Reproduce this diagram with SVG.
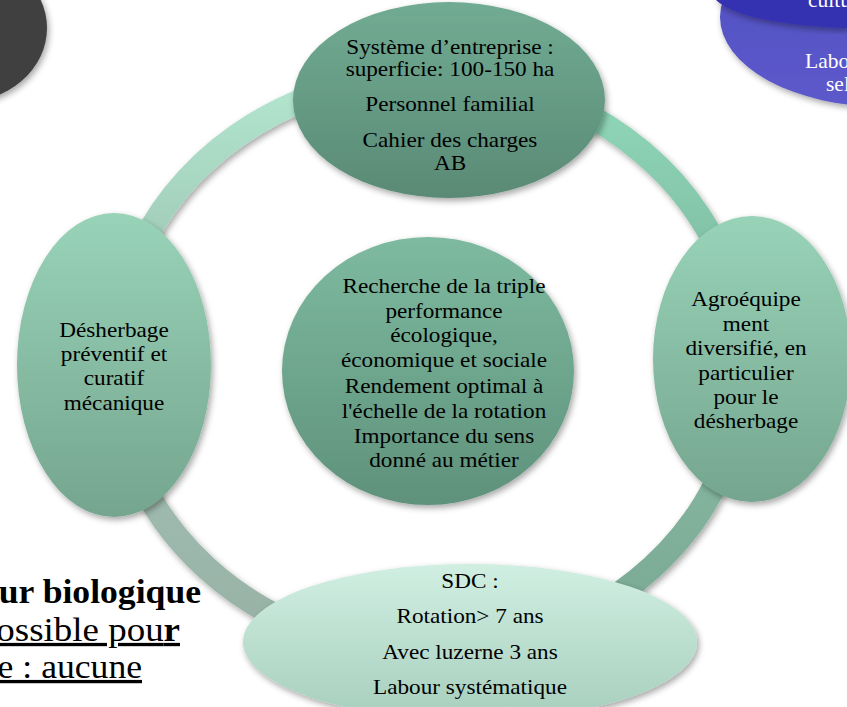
<svg xmlns="http://www.w3.org/2000/svg" width="847" height="707" viewBox="0 0 847 707">
<defs>
<filter id="sh" x="-20%" y="-20%" width="140%" height="140%">
<feDropShadow dx="2" dy="3" stdDeviation="3" flood-color="#000" flood-opacity="0.35"/>
</filter>
<linearGradient id="gTop" x1="0" y1="0" x2="0" y2="1"><stop offset="0" stop-color="#71ab93"/><stop offset="1" stop-color="#5a8a75"/></linearGradient>
<linearGradient id="gCen" x1="0" y1="0" x2="0" y2="1"><stop offset="0" stop-color="#7dbaa0"/><stop offset="1" stop-color="#5f917b"/></linearGradient>
<linearGradient id="gSide" x1="0" y1="0" x2="0" y2="1"><stop offset="0" stop-color="#98d3b8"/><stop offset="1" stop-color="#75a58e"/></linearGradient>
<linearGradient id="gBot" x1="0" y1="0" x2="0" y2="1"><stop offset="0" stop-color="#d0efe2"/><stop offset="1" stop-color="#a7cebd"/></linearGradient>
<linearGradient id="rTL" gradientUnits="userSpaceOnUse" x1="0" y1="77" x2="0" y2="265"><stop offset="0" stop-color="#b3e6d0"/><stop offset="1" stop-color="#9fcab6"/></linearGradient>
<linearGradient id="rTR" gradientUnits="userSpaceOnUse" x1="0" y1="80" x2="0" y2="290"><stop offset="0" stop-color="#90d9b9"/><stop offset="1" stop-color="#7fbca2"/></linearGradient>
<linearGradient id="rBR" gradientUnits="userSpaceOnUse" x1="0" y1="438" x2="0" y2="642"><stop offset="0" stop-color="#86b7a0"/><stop offset="1" stop-color="#79a892"/></linearGradient>
<linearGradient id="rBL" gradientUnits="userSpaceOnUse" x1="0" y1="438" x2="0" y2="642"><stop offset="0" stop-color="#a1bdb1"/><stop offset="1" stop-color="#97b1a5"/></linearGradient>
<linearGradient id="gBlue" x1="0" y1="0" x2="0" y2="1"><stop offset="0" stop-color="#4f4cc0"/><stop offset="1" stop-color="#5d5acb"/></linearGradient>
</defs>
<style>
.ring{fill:none;stroke-width:24;filter:url(#sh)}
.node{filter:url(#sh)}
.t{font-family:"Liberation Serif","Times New Roman",serif;font-size:21.5px;fill:#000;text-anchor:middle}
.w{font-family:"Liberation Serif","Times New Roman",serif;font-size:21.5px;fill:#fff}
.big{font-family:"Liberation Serif","Times New Roman",serif;font-size:33px;fill:#000;text-anchor:end}
</style>

<!-- background fragments -->
<g id="bg-dark">
<ellipse cx="-40" cy="28" rx="87" ry="75" fill="#404040" filter="url(#sh)"/>
</g>
<g id="bg-blue">
<ellipse cx="885" cy="17" rx="165" ry="90" fill="url(#gBlue)" filter="url(#sh)"/>
<path d="M714,-2 C728,14 775,26 847,28 L847,-2 Z" fill="#3631b2" filter="url(#sh)"/>
<text class="w" x="808" y="7">cultu</text>
<text class="w" x="805" y="68">Labo</text>
<text class="w" x="826" y="91">sel</text>
</g>
<g id="bg-text">
<g transform="translate(201,0) scale(1.08,1)">
<text class="big" x="0" y="603" font-weight="bold">ur biologique</text>
</g>
<g transform="translate(180,0) scale(1.12,1)">
<text class="big" x="0" y="641"><tspan text-decoration="underline">ossible pou</tspan><tspan text-decoration="underline" font-weight="bold">r</tspan></text>
</g>
<g transform="translate(142,0) scale(1.08,1)">
<text class="big" x="0" y="678" text-decoration="underline">e : aucune</text>
</g>
</g>

<g id="connectors">
<path class="ring" stroke="url(#rTL)" d="M133,265.5 A315,288 0 0 1 401.5,77.1"/>
<path class="ring" stroke="url(#rTR)" d="M483.7,80.4 A315,288 0 0 1 733.3,289.5"/>
<path class="ring" stroke="url(#rBR)" d="M733.3,438.5 A315,288 0 0 1 510.5,642.2"/>
<path class="ring" stroke="url(#rBL)" d="M347.5,642.2 A315,288 0 0 1 124.7,438.5"/>
</g>

<g id="node-top">
<ellipse class="node" cx="449" cy="100" rx="156" ry="98" fill="url(#gTop)"/>
<g transform="translate(450,0) scale(1.08,1)">
<text class="t" x="0" y="54">Système d’entreprise :</text>
<text class="t" x="0" y="76">superficie: 100-150 ha</text>
<text class="t" x="0" y="111">Personnel familial</text>
<text class="t" x="0" y="147">Cahier des charges</text>
<text class="t" x="0" y="170">AB</text>
</g>
</g>

<g id="node-center">
<ellipse class="node" cx="428" cy="371" rx="146" ry="134" fill="url(#gCen)"/>
<g transform="translate(444,0) scale(1.08,1)">
<text class="t" x="0" y="293">Recherche de la triple</text>
<text class="t" x="0" y="318">performance</text>
<text class="t" x="0" y="342">écologique,</text>
<text class="t" x="0" y="367.5">économique et sociale</text>
<text class="t" x="0" y="393">Rendement optimal à</text>
<text class="t" x="0" y="418">l'échelle de la rotation</text>
<text class="t" x="0" y="443">Importance du sens</text>
<text class="t" x="0" y="467">donné au métier</text>
</g>
</g>

<g id="node-right">
<ellipse class="node" cx="752" cy="359" rx="99" ry="143" fill="url(#gSide)"/>
<g transform="translate(746,0) scale(1.08,1)">
<text class="t" x="0" y="306">Agroéquipe</text>
<text class="t" x="0" y="331">ment</text>
<text class="t" x="0" y="355">diversifié, en</text>
<text class="t" x="0" y="380">particulier</text>
<text class="t" x="0" y="404">pour le</text>
<text class="t" x="0" y="428.5">désherbage</text>
</g>
</g>

<g id="node-left">
<ellipse class="node" cx="114" cy="365" rx="97" ry="152" fill="url(#gSide)"/>
<g transform="translate(114,0) scale(1.08,1)">
<text class="t" x="0" y="337">Désherbage</text>
<text class="t" x="0" y="361.5">préventif et</text>
<text class="t" x="0" y="385">curatif</text>
<text class="t" x="0" y="410">mécanique</text>
</g>
</g>

<g id="node-bottom">
<ellipse class="node" cx="470" cy="642" rx="227" ry="78" fill="url(#gBot)"/>
<g transform="translate(470,0) scale(1.08,1)">
<text class="t" x="0" y="588">SDC :</text>
<text class="t" x="0" y="623">Rotation&gt; 7 ans</text>
<text class="t" x="0" y="659">Avec luzerne 3 ans</text>
<text class="t" x="0" y="694">Labour systématique</text>
</g>
</g>
</svg>
